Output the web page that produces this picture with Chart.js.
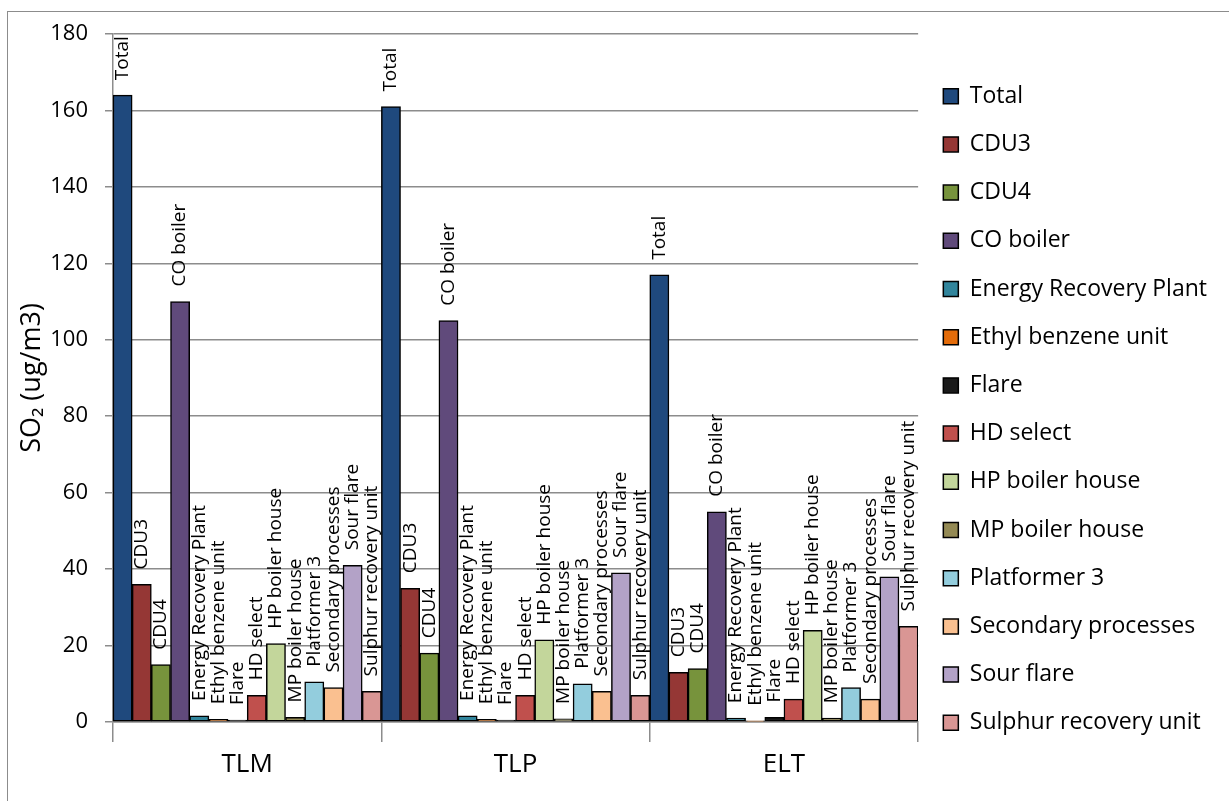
<!DOCTYPE html>
<html>
<head>
<meta charset="utf-8">
<title>SO2 by source</title>
<script src="https://cdn.jsdelivr.net/npm/chart.js@4.4.0/dist/chart.umd.min.js"></script>
<style>
  html, body { margin: 0; padding: 0; background: #fff; }
  #frame {
    position: absolute; left: 7px; top: 11px; width: 1240px; height: 800px;
    border-left: 1px solid #8c8c8c; border-top: 1px solid #8c8c8c;
  }
  #wrap { position: absolute; left: 0; top: 0; width: 1229px; height: 801px; }
</style>
</head>
<body>
<div id="frame"></div>
<div id="wrap"><canvas id="so2Chart" width="1229" height="801"></canvas></div>
<script>
// monitoring sites on the x axis
const sites = ['TLM', 'TLP', 'ELT'];

// SO2 contribution per source, ug/m3 (TLM, TLP, ELT)
const total           = [164, 161, 117];
const cdu3            = [36, 35, 13];
const cdu4            = [15, 18, 14];
const coBoiler        = [110, 105, 55];
const energyRecovery  = [1.6, 1.6, 1.0];
const ethylBenzene    = [0.7, 0.7, 0.3];
const flare           = [0.5, 0.5, 1.2];
const hdSelect        = [7, 7, 6];
const hpBoilerHouse   = [20.5, 21.5, 24];
const mpBoilerHouse   = [1.2, 0.8, 1.0];
const platformer3     = [10.5, 10, 9];
const secondaryProc   = [9, 8, 6];
const sourFlare       = [41, 39, 38];
const sulphurRecovery = [8, 7, 25];

const yTicks = { min: 0, max: 180, step: 20 };

const series = [
  ['Total', total, '#1f497d'],
  ['CDU3', cdu3, '#953735'],
  ['CDU4', cdu4, '#77933c'],
  ['CO boiler', coBoiler, '#604a7b'],
  ['Energy Recovery Plant', energyRecovery, '#31859c'],
  ['Ethyl benzene unit', ethylBenzene, '#e46c0a'],
  ['Flare', flare, '#1a1a1a'],
  ['HD select', hdSelect, '#c0504d'],
  ['HP boiler house', hpBoilerHouse, '#c3d69b'],
  ['MP boiler house', mpBoilerHouse, '#948a54'],
  ['Platformer 3', platformer3, '#93cddd'],
  ['Secondary processes', secondaryProc, '#fac090'],
  ['Sour flare', sourFlare, '#b3a2c7'],
  ['Sulphur recovery unit', sulphurRecovery, '#d99694'],
];

Chart.defaults.font.family = '"Open Sans", sans-serif';
Chart.defaults.color = '#000';

// writes the source name vertically above every bar
const barNames = {
  id: 'barNames',
  afterDatasetsDraw(chart) {
    const ctx = chart.ctx;
    ctx.save();
    ctx.font = '19px "Open Sans"';
    ctx.fillStyle = '#000';
    ctx.textAlign = 'left';
    ctx.textBaseline = 'middle';
    chart.data.datasets.forEach((ds, i) => {
      chart.getDatasetMeta(i).data.forEach(bar => {
        ctx.save();
        ctx.translate(bar.x, bar.y - 15);
        ctx.rotate(-Math.PI / 2);
        ctx.fillText(ds.label, 0, 0);
        ctx.restore();
      });
    });
    ctx.restore();
  }
};

const gridGrey = '#8c8c8c';

new Chart(document.getElementById('so2Chart'), {
  type: 'bar',
  data: {
    labels: sites,
    datasets: series.map(([label, values, color]) => ({
      label: label,
      data: values,
      backgroundColor: color,
      borderColor: '#000',
      borderWidth: 1.5,
      borderSkipped: false,
      categoryPercentage: 1,
      barPercentage: 1,
    })),
  },
  options: {
    responsive: false,
    devicePixelRatio: 1,
    animation: false,
    layout: { padding: { top: 34, right: 12, bottom: 16, left: 0 } },
    plugins: {
      tooltip: { enabled: false },
      legend: {
        position: 'right',
        align: 'center',
        labels: {
          boxWidth: 15,
          boxHeight: 15,
          padding: 25.2,
          color: '#000',
          font: { size: 23 },
        },
      },
    },
    scales: {
      x: {
        grid: {
          offset: true,
          drawOnChartArea: false,
          drawTicks: true,
          tickLength: 20,
          color: gridGrey,
          lineWidth: 1.5,
        },
        border: { color: gridGrey, width: 1.5 },
        ticks: { font: { size: 26 }, padding: 7 },
        afterFit(scale) { scale.height = 63; },
      },
      y: {
        min: yTicks.min,
        max: yTicks.max,
        ticks: { stepSize: yTicks.step, padding: 17, font: { size: 22 } },
        grid: { color: gridGrey, lineWidth: 1.5, tickLength: 8 },
        border: { color: gridGrey, width: 1.5 },
        title: {
          display: true,
          text: 'SO₂ (ug/m3)',
          font: { size: 27 },
          padding: { top: 16, bottom: 0 },
        },
        afterFit(scale) { scale.width = 113; },
      },
    },
  },
  plugins: [barNames],
});
</script>
</body>
</html>
